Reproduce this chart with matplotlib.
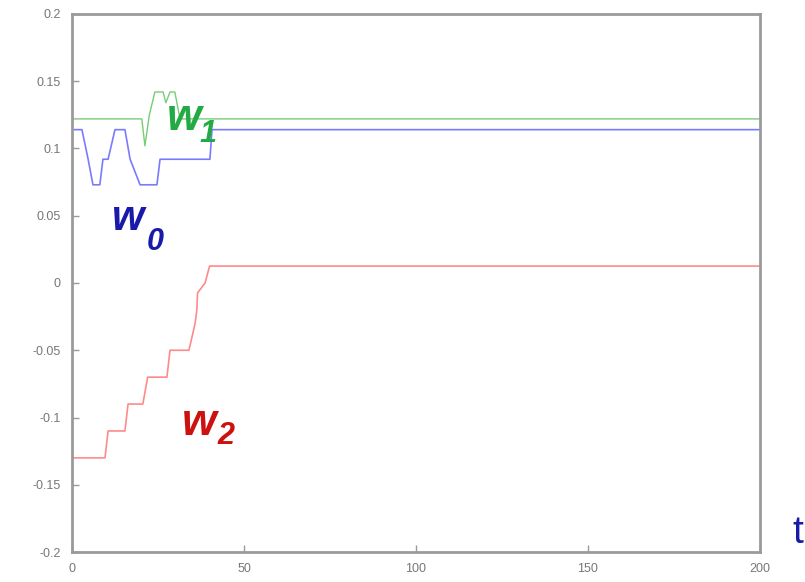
import matplotlib.pyplot as plt

# weight trajectories (time, value)
t_w0 = [0, 2.9, 4.7, 6.1, 8.1, 9.0, 10.5, 12.5, 15.4, 16.9, 19.8, 24.7, 25.6, 40.1, 40.7, 200]
w0 = [0.114, 0.114, 0.092, 0.073, 0.073, 0.092, 0.092, 0.114, 0.114, 0.092, 0.073, 0.073, 0.092, 0.092, 0.114, 0.114]

t_w1 = [0, 20.3, 21.2, 22.5, 24.1, 26.5, 27.3, 28.5, 29.9, 31.4, 200]
w1 = [0.122, 0.122, 0.102, 0.125, 0.142, 0.142, 0.134, 0.142, 0.142, 0.122, 0.122]

t_w2 = [0, 9.6, 10.5, 15.4, 16.3, 20.6, 22.0, 27.6, 28.5, 34.0, 35.8, 36.3, 36.5, 38.7, 40.0, 200]
w2 = [-0.13, -0.13, -0.11, -0.11, -0.09, -0.09, -0.07, -0.07, -0.05, -0.05, -0.03, -0.02, -0.0074, 0.0, 0.0126, 0.0126]

xticks = [0, 50, 100, 150, 200]
yticks = [-0.2, -0.15, -0.1, -0.05, 0, 0.05, 0.1, 0.15, 0.2]
ytick_labels = ['-0.2', '-0.15', '-0.1', '-0.05', '0', '0.05', '0.1', '0.15', '0.2']

plt.rcParams['font.family'] = ['Liberation Sans', 'DejaVu Sans']

fig = plt.figure(figsize=(8.05, 5.82), dpi=100)
ax = fig.add_axes([0.0894, 0.0515, 0.8547, 0.9245])

ax.plot(t_w0, w0, color='#7a7aff', lw=1.2)
ax.plot(t_w1, w1, color='#77cc77', lw=1.0)
ax.plot(t_w2, w2, color='#ff8a8a', lw=1.2)

ax.set_xlim(0, 200)
ax.set_ylim(-0.2, 0.2)
ax.set_xticks(xticks)
ax.set_xticklabels([str(x) for x in xticks])
ax.set_yticks(yticks)
ax.set_yticklabels(ytick_labels)
ax.tick_params(direction='in', length=5, width=1, color='#999999',
               labelcolor='#777777', labelsize=9, pad=8)
for s in ax.spines.values():
    s.set_color('#9a9a9a')
    s.set_linewidth(2)

lab = dict(fontweight='bold', fontstyle='italic', clip_on=False)
ax.text(27.6, 0.1137, 'w', color='#22aa44', fontsize=32, **lab)
ax.text(37.2, 0.105, '1', color='#22aa44', fontsize=22, **lab)
ax.text(11.6, 0.0394, 'w', color='#1a1aaa', fontsize=30, **lab)
ax.text(21.8, 0.0245, '0', color='#1a1aaa', fontsize=22, **lab)
ax.text(32.0, -0.113, 'w', color='#cc1111', fontsize=32, **lab)
ax.text(42.2, -0.12, '2', color='#cc1111', fontsize=22, **lab)
ax.text(209.3, -0.1933, 't', color='#1a1aaa', fontsize=28, clip_on=False)

fig.savefig('out.png', dpi=100)
